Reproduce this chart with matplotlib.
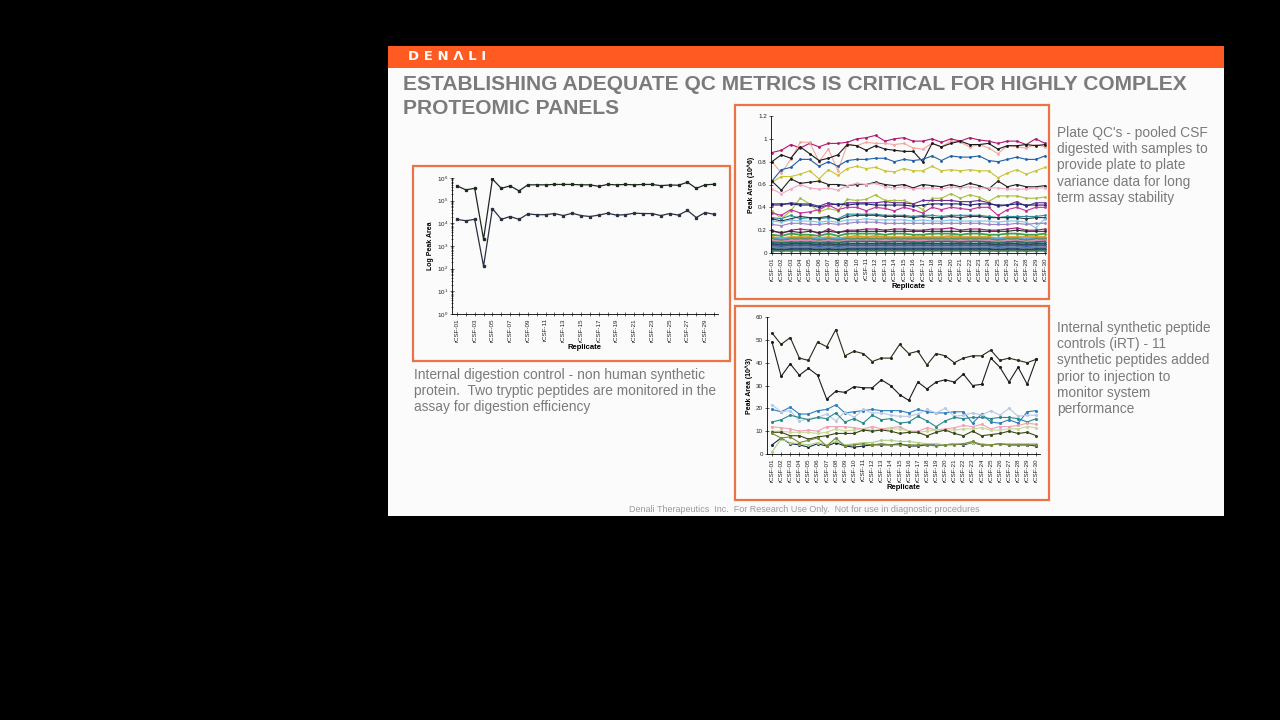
import numpy as np
import matplotlib.pyplot as plt
from matplotlib.patches import Rectangle
from matplotlib.ticker import FormatStrFormatter, LogLocator, NullFormatter

plt.rcParams['font.family'] = ['Liberation Sans', 'DejaVu Sans']

W, H = 1280, 720

# ---- data ----
replicates = ["rCSF-%02d" % i for i in range(1, 31)]

digest_upper = [4.5e5, 3.0e5, 3.5e5, 2.0e3, 9.0e5, 3.5e5, 4.5e5, 2.7e5, 5.0e5, 5.0e5,
                5.0e5, 5.2e5, 5.2e5, 5.2e5, 5.0e5, 5.0e5, 4.3e5, 5.2e5, 5.0e5, 5.2e5,
                5.0e5, 5.2e5, 5.2e5, 4.6e5, 4.9e5, 4.8e5, 6.5e5, 3.5e5, 5.0e5, 5.3e5]
digest_lower = [1.5e4, 1.3e4, 1.5e4, 1.3e2, 4.5e4, 1.5e4, 2.0e4, 1.5e4, 2.6e4, 2.4e4,
                2.4e4, 2.7e4, 2.2e4, 2.8e4, 2.2e4, 2.0e4, 2.3e4, 2.8e4, 2.3e4, 2.4e4,
                2.8e4, 2.7e4, 2.7e4, 2.2e4, 2.7e4, 2.3e4, 3.7e4, 1.8e4, 3.0e4, 2.5e4]

plate_qc = {
    "#b0186e": [0.88, 0.90, 0.95, 0.92, 0.96, 0.93, 0.96, 0.96, 0.97, 1.00, 1.01, 1.03, 0.98, 1.00, 1.01,
                0.98, 0.98, 1.00, 0.97, 1.00, 0.98, 1.01, 0.99, 0.98, 0.96, 0.98, 0.98, 0.95, 1.00, 0.96],
    "#f4a6a0": [0.80, 0.70, 0.82, 0.97, 0.97, 0.80, 0.91, 0.72, 0.95, 0.94, 0.97, 0.96, 0.96, 0.95, 0.96,
                0.92, 0.91, 0.96, 0.93, 0.98, 0.97, 0.93, 0.95, 0.92, 0.87, 0.94, 0.93, 0.92, 0.95, 0.93],
    "#1a1a1a": [0.80, 0.86, 0.83, 0.93, 0.87, 0.81, 0.83, 0.86, 0.95, 0.94, 0.90, 0.94, 0.91, 0.90, 0.89,
                0.89, 0.80, 0.96, 0.93, 0.96, 0.98, 0.95, 0.95, 0.96, 0.91, 0.94, 0.94, 0.95, 0.94, 0.95],
    "#1f5fa8": [0.63, 0.73, 0.75, 0.82, 0.82, 0.76, 0.80, 0.76, 0.81, 0.82, 0.82, 0.83, 0.83, 0.80, 0.82,
                0.81, 0.82, 0.85, 0.81, 0.85, 0.84, 0.84, 0.85, 0.81, 0.80, 0.82, 0.84, 0.82, 0.82, 0.85],
    "#c9c431": [0.62, 0.67, 0.67, 0.69, 0.72, 0.65, 0.73, 0.68, 0.74, 0.76, 0.74, 0.75, 0.72, 0.71, 0.74,
                0.72, 0.72, 0.76, 0.72, 0.73, 0.72, 0.73, 0.72, 0.72, 0.66, 0.70, 0.73, 0.69, 0.72, 0.75],
    "#222222": [0.63, 0.55, 0.65, 0.61, 0.62, 0.63, 0.60, 0.60, 0.59, 0.60, 0.60, 0.62, 0.60, 0.59, 0.60,
                0.57, 0.60, 0.59, 0.58, 0.60, 0.58, 0.61, 0.59, 0.56, 0.63, 0.58, 0.60, 0.58, 0.58, 0.59],
    "#f2a7c4": [0.56, 0.52, 0.56, 0.60, 0.57, 0.56, 0.57, 0.55, 0.59, 0.61, 0.60, 0.61, 0.58, 0.57, 0.58,
                0.56, 0.57, 0.57, 0.56, 0.58, 0.57, 0.58, 0.57, 0.57, 0.57, 0.56, 0.56, 0.56, 0.57, 0.57],
    "#a6c23a": [0.37, 0.30, 0.37, 0.48, 0.43, 0.36, 0.39, 0.37, 0.47, 0.46, 0.47, 0.51, 0.46, 0.46, 0.46,
                0.43, 0.38, 0.48, 0.48, 0.52, 0.48, 0.51, 0.49, 0.45, 0.50, 0.50, 0.50, 0.48, 0.48, 0.49],
    "#6a2a9a": [0.42, 0.42, 0.44, 0.43, 0.43, 0.41, 0.44, 0.42, 0.44, 0.44, 0.44, 0.44, 0.45, 0.44, 0.44,
                0.43, 0.46, 0.46, 0.46, 0.46, 0.45, 0.45, 0.46, 0.44, 0.41, 0.42, 0.45, 0.41, 0.44, 0.44],
    "#1b2a6b": [0.43, 0.43, 0.43, 0.42, 0.42, 0.40, 0.42, 0.43, 0.42, 0.43, 0.43, 0.42, 0.42, 0.42, 0.42,
                0.41, 0.42, 0.43, 0.43, 0.43, 0.43, 0.42, 0.43, 0.43, 0.42, 0.42, 0.43, 0.42, 0.42, 0.42],
    "#c0309a": [0.35, 0.33, 0.38, 0.35, 0.36, 0.38, 0.42, 0.38, 0.40, 0.40, 0.37, 0.40, 0.39, 0.37, 0.40,
                0.38, 0.35, 0.40, 0.38, 0.40, 0.39, 0.38, 0.40, 0.40, 0.33, 0.38, 0.40, 0.37, 0.40, 0.40],
    "#2a8f9a": [0.31, 0.30, 0.33, 0.30, 0.31, 0.30, 0.31, 0.30, 0.34, 0.34, 0.34, 0.34, 0.33, 0.33, 0.33,
                0.32, 0.33, 0.33, 0.32, 0.33, 0.33, 0.33, 0.33, 0.32, 0.31, 0.32, 0.32, 0.32, 0.32, 0.33],
    "#333344": [0.30, 0.28, 0.30, 0.32, 0.31, 0.31, 0.32, 0.29, 0.32, 0.33, 0.33, 0.33, 0.32, 0.32, 0.32,
                0.31, 0.32, 0.31, 0.31, 0.32, 0.31, 0.32, 0.32, 0.31, 0.31, 0.31, 0.31, 0.30, 0.31, 0.31],
    "#7fc6e8": [0.28, 0.27, 0.29, 0.28, 0.28, 0.27, 0.28, 0.27, 0.29, 0.29, 0.30, 0.29, 0.29, 0.29, 0.29,
                0.28, 0.29, 0.28, 0.28, 0.29, 0.28, 0.28, 0.28, 0.28, 0.27, 0.28, 0.28, 0.27, 0.22, 0.30],
    "#9b7fc4": [0.25, 0.24, 0.26, 0.26, 0.25, 0.25, 0.26, 0.25, 0.26, 0.27, 0.27, 0.27, 0.26, 0.26, 0.26,
                0.26, 0.26, 0.26, 0.26, 0.26, 0.26, 0.26, 0.26, 0.25, 0.25, 0.25, 0.26, 0.25, 0.26, 0.26],
    "#a0207a": [0.20, 0.17, 0.20, 0.21, 0.20, 0.17, 0.21, 0.18, 0.20, 0.20, 0.21, 0.21, 0.20, 0.21, 0.21,
                0.20, 0.20, 0.21, 0.21, 0.22, 0.20, 0.21, 0.21, 0.20, 0.20, 0.21, 0.22, 0.20, 0.20, 0.21],
    "#2b2b2b": [0.19, 0.18, 0.19, 0.18, 0.19, 0.18, 0.19, 0.18, 0.19, 0.19, 0.19, 0.19, 0.19, 0.19, 0.19,
                0.19, 0.19, 0.19, 0.19, 0.19, 0.19, 0.19, 0.19, 0.19, 0.19, 0.19, 0.20, 0.19, 0.19, 0.19],
    "#3fa34d": [0.16, 0.15, 0.17, 0.16, 0.16, 0.15, 0.17, 0.15, 0.17, 0.17, 0.17, 0.17, 0.16, 0.17, 0.17,
                0.16, 0.16, 0.17, 0.17, 0.17, 0.16, 0.17, 0.17, 0.16, 0.16, 0.17, 0.17, 0.16, 0.16, 0.17],
    "#e39a2a": [0.14, 0.13, 0.14, 0.14, 0.14, 0.13, 0.14, 0.13, 0.14, 0.15, 0.14, 0.15, 0.14, 0.14, 0.14,
                0.14, 0.14, 0.14, 0.14, 0.15, 0.14, 0.14, 0.14, 0.14, 0.13, 0.14, 0.14, 0.14, 0.14, 0.14],
    "#5aa0d8": [0.13, 0.12, 0.13, 0.13, 0.13, 0.12, 0.13, 0.12, 0.13, 0.13, 0.13, 0.13, 0.13, 0.13, 0.13,
                0.13, 0.13, 0.13, 0.13, 0.13, 0.13, 0.13, 0.13, 0.13, 0.12, 0.13, 0.13, 0.12, 0.13, 0.13],
    "#6b8e23": [0.12, 0.11, 0.12, 0.12, 0.12, 0.11, 0.12, 0.11, 0.12, 0.12, 0.12, 0.12, 0.12, 0.12, 0.12,
                0.12, 0.12, 0.12, 0.12, 0.12, 0.12, 0.12, 0.12, 0.12, 0.11, 0.12, 0.12, 0.11, 0.12, 0.12],
    "#d98fb5": [0.11, 0.10, 0.11, 0.11, 0.11, 0.10, 0.11, 0.10, 0.11, 0.11, 0.11, 0.11, 0.11, 0.11, 0.11,
                0.11, 0.11, 0.11, 0.11, 0.11, 0.11, 0.11, 0.11, 0.11, 0.10, 0.11, 0.11, 0.10, 0.11, 0.11],
    "#2e6f6f": [0.095, 0.09, 0.095, 0.095, 0.095, 0.09, 0.095, 0.09, 0.10, 0.10, 0.10, 0.10, 0.095, 0.10, 0.10,
                0.095, 0.095, 0.10, 0.10, 0.10, 0.095, 0.10, 0.10, 0.095, 0.09, 0.095, 0.10, 0.09, 0.095, 0.10],
    "#34495e": [0.08, 0.075, 0.08, 0.08, 0.08, 0.075, 0.08, 0.075, 0.08, 0.08, 0.08, 0.08, 0.08, 0.08, 0.08,
                0.08, 0.08, 0.08, 0.08, 0.08, 0.08, 0.08, 0.08, 0.08, 0.075, 0.08, 0.08, 0.075, 0.08, 0.08],
    "#2f5fa0": [0.065, 0.06, 0.065, 0.065, 0.065, 0.06, 0.065, 0.06, 0.065, 0.065, 0.065, 0.065, 0.065, 0.065, 0.065,
                0.065, 0.065, 0.065, 0.065, 0.065, 0.065, 0.065, 0.065, 0.065, 0.06, 0.065, 0.065, 0.06, 0.065, 0.065],
    "#6d7f8c": [0.05, 0.045, 0.05, 0.05, 0.05, 0.045, 0.05, 0.045, 0.05, 0.05, 0.05, 0.05, 0.05, 0.05, 0.05,
                0.05, 0.05, 0.05, 0.05, 0.05, 0.05, 0.05, 0.05, 0.05, 0.045, 0.05, 0.05, 0.045, 0.05, 0.05],
    "#1d3f73": [0.035, 0.03, 0.035, 0.035, 0.035, 0.03, 0.035, 0.03, 0.035, 0.035, 0.035, 0.035, 0.035, 0.035, 0.035,
                0.035, 0.035, 0.035, 0.035, 0.035, 0.035, 0.035, 0.035, 0.035, 0.03, 0.035, 0.035, 0.03, 0.035, 0.035],
    "#4a7a5a": [0.02, 0.018, 0.02, 0.02, 0.02, 0.018, 0.02, 0.018, 0.02, 0.02, 0.02, 0.02, 0.02, 0.02, 0.02,
                0.02, 0.02, 0.02, 0.02, 0.02, 0.02, 0.02, 0.02, 0.02, 0.018, 0.02, 0.02, 0.018, 0.02, 0.02],
}

irt = {
    "#2a2a1a": [53, 48, 51, 42, 41, 49, 47, 54.5, 43, 45, 44, 40.5, 42, 42, 48,
                44, 45, 39, 44, 43, 40, 42, 43, 43, 45.5, 41, 42, 41, 40, 41.5],
    "#1e1e1e": [49, 34, 39.5, 34.5, 37.5, 34.5, 24, 27.5, 27, 29.5, 29, 29, 32.5, 30, 26,
                23.5, 31.5, 28.5, 31.5, 32.5, 31.5, 35, 30, 30.5, 42, 38, 31.5, 38, 30.5, 41.5],
    "#2f7fc0": [19.5, 18.5, 20.5, 17.5, 17.5, 19, 19.5, 21.5, 18, 18.5, 19, 19.5, 19, 19, 19,
                18, 19.5, 18.5, 18, 18, 18.5, 18.5, 13.5, 17.5, 14, 13.5, 15, 13.5, 18.5, 19],
    "#b8c8e8": [21.5, 18.5, 19, 14.5, 15.5, 16, 17.5, 14.5, 18.5, 16, 19.5, 18, 18, 17, 16.5,
                16.5, 17.5, 19.5, 18, 20, 16.5, 17, 18, 17, 19, 17, 20, 16.5, 17, 17],
    "#2a8a8a": [14, 15, 17, 16, 15, 16, 15.5, 18, 14, 15.5, 13.5, 17, 15, 15.5, 13.5,
                14, 16.5, 14.5, 12, 14.5, 16, 15.5, 16, 16, 15.5, 16, 16, 15.5, 14, 15.5],
    "#f0a0b8": [12, 11.5, 11, 10, 10.5, 10, 12, 12, 12, 11.5, 11, 12, 11, 11.5, 12,
                10, 10, 11.5, 10.5, 11, 11.5, 12.5, 12, 13, 11, 12, 12, 12.5, 13.5, 13],
    "#c8d890": [10, 10, 9.5, 9.5, 9.5, 9, 9.5, 11, 10, 10.5, 11, 10.5, 10.5, 11, 11,
                10, 9.5, 10, 10.5, 10.5, 10.5, 11, 11, 11.5, 10.5, 10.5, 11, 11, 12, 11.5],
    "#3a4a1a": [9.5, 9.5, 8, 8, 6.5, 7.5, 8, 9, 9, 9, 10.5, 10, 10.5, 10, 9,
                9.5, 9.5, 8, 9.5, 10.5, 9, 8, 10, 8, 8.5, 9, 10, 9, 9.5, 8],
    "#1b2a4b": [4, 7, 4.5, 4, 3, 4.5, 3.5, 5, 3.5, 3, 3.5, 4, 4, 4, 4.5,
                3.5, 3.5, 4, 4, 4, 4.5, 4, 5, 4, 4, 4.5, 4, 4, 4, 3.5],
    "#a8d08a": [1, 6.5, 5, 4.5, 4, 5, 4, 5.5, 4, 4.5, 5, 5, 6, 6, 5.5,
                5.5, 5, 4.5, 4.5, 4, 4.5, 4.5, 5, 4.5, 4, 4.5, 4.5, 4.5, 4.5, 4.5],
    "#7a8a3a": [9, 7, 7.5, 5, 6, 7, 3.5, 7, 3.5, 4, 4.5, 4, 4.5, 4, 4,
                4, 4, 4, 3.5, 4, 4, 4.5, 5.5, 4, 4, 4.5, 4, 4, 4, 4],
}


def fx(x):
    return x / W


def fy(y):
    return 1 - y / H


def add_ax(x0, y0, x1, y1):
    return fig.add_axes([fx(x0), fy(y1), (x1 - x0) / W, (y1 - y0) / H])


def rect(x0, y0, x1, y1, **kw):
    fig.add_artist(Rectangle((fx(x0), fy(y1)), (x1 - x0) / W, (y1 - y0) / H,
                             transform=fig.transFigure, **kw))


def style(ax, ylabel):
    for s in ["top", "right"]:
        ax.spines[s].set_visible(False)
    for s in ["left", "bottom"]:
        ax.spines[s].set_linewidth(0.6)
    ax.set_facecolor("none")
    ax.tick_params(axis="both", direction="inout", length=3, width=0.5,
                   labelsize=4.5, pad=1.5, colors="#222222")
    ax.set_ylabel(ylabel, fontsize=5, fontweight="bold", labelpad=2)
    ax.set_xlabel("Replicate", fontsize=5.5, fontweight="bold", labelpad=2)


fig = plt.figure(figsize=(W / 100, H / 100), dpi=100, facecolor="black")

# slide background and header (behind the axes)
rect(388, 46, 1224, 516, facecolor="#fbfbfb", edgecolor="none", zorder=-10)
rect(388, 46, 1224, 68, facecolor="#ff5a22", edgecolor="none", zorder=-9)
fig.text(fx(408), fy(57), "D E N Λ L I", color="white", fontsize=9.5, fontweight="bold",
         va="center", ha="left", family=["DejaVu Sans"])

title_c = "#7b7b7b"
fig.text(fx(403), fy(84), "ESTABLISHING ADEQUATE QC METRICS IS CRITICAL FOR HIGHLY COMPLEX",
         color=title_c, fontsize=15.1, fontweight="bold", va="center", ha="left")
fig.text(fx(403), fy(109), "PROTEOMIC PANELS",
         color=title_c, fontsize=15.1, fontweight="bold", va="center", ha="left")

x = np.arange(len(replicates))

# chart 1: digestion control, log scale
ax1 = add_ax(452, 178, 718, 314)
ax1.plot(x, digest_upper, color="#1e2a1e", lw=0.9, marker="s", ms=1.4)
ax1.plot(x, digest_lower, color="#2a2f44", lw=0.9, marker="s", ms=1.4)
ax1.set_yscale("log")
ax1.set_ylim(1, 1e6)
ax1.set_xlim(-0.56, 29.45)
ax1.yaxis.set_major_locator(LogLocator(base=10, numticks=10))
ax1.yaxis.set_minor_locator(LogLocator(base=10, subs=np.arange(2, 10), numticks=10))
ax1.yaxis.set_minor_formatter(NullFormatter())
ax1.set_xticks(x)
ax1.set_xticklabels([r if i % 2 == 0 else "" for i, r in enumerate(replicates)], rotation=90)
style(ax1, "Log Peak Area")
ax1.tick_params(axis="y", which="minor", length=1.5, width=0.4, direction="inout")

# chart 2: plate QC (lower, denser lines drawn a bit heavier)
ax2 = add_ax(771, 116, 1046, 253)
for c, vals in plate_qc.items():
    lw = 1.3 if max(vals) < 0.18 else 0.8
    ax2.plot(x, vals, color=c, lw=lw, marker="o", ms=1.0)
ax2.set_ylim(0, 1.2)
ax2.set_yticks([0, 0.2, 0.4, 0.6, 0.8, 1.0, 1.2])
ax2.yaxis.set_major_formatter(FormatStrFormatter("%g"))
ax2.set_xlim(-0.1, 29.1)
ax2.set_xticks(x)
ax2.set_xticklabels(replicates, rotation=90)
style(ax2, "Peak Area (10^6)")

# chart 3: iRT peptides
ax3 = add_ax(767, 317, 1040, 454)
for c, vals in irt.items():
    ax3.plot(x, vals, color=c, lw=0.8, marker="o", ms=1.2)
ax3.set_ylim(0, 60)
ax3.set_yticks(range(0, 61, 10))
ax3.set_xlim(-0.55, 29.4)
ax3.set_xticks(x)
ax3.set_xticklabels(replicates, rotation=90)
style(ax3, "Peak Area (10^3)")

# orange frames round the three charts
frame_kw = dict(fill=False, edgecolor="#ea7448", linewidth=1.6, zorder=5)
rect(413, 166, 730, 361, **frame_kw)
rect(735, 105, 1049, 299, **frame_kw)
rect(735, 306, 1049, 500, **frame_kw)

# captions
body_c = "#7a7a7a"
cap_kw = dict(color=body_c, fontsize=9.9, va="top", ha="left", linespacing=1.2)
fig.text(fx(1057), fy(126), "Plate QC's - pooled CSF\ndigested with samples to\nprovide plate to plate\n"
         "variance data for long\nterm assay stability", **cap_kw)
fig.text(fx(1057), fy(321), "Internal synthetic peptide\ncontrols (iRT) - 11\nsynthetic peptides added\n"
         "prior to injection to\nmonitor system\nperformance", **cap_kw)
fig.text(fx(414), fy(368), "Internal digestion control - non human synthetic\n"
         "protein.  Two tryptic peptides are monitored in the\nassay for digestion efficiency", **cap_kw)
fig.text(fx(804), fy(509), "Denali Therapeutics  Inc.  For Research Use Only.  Not for use in diagnostic procedures",
         color="#9a9a9a", fontsize=6.5, va="center", ha="center")

fig.savefig("out.png", dpi=100, facecolor="black")
